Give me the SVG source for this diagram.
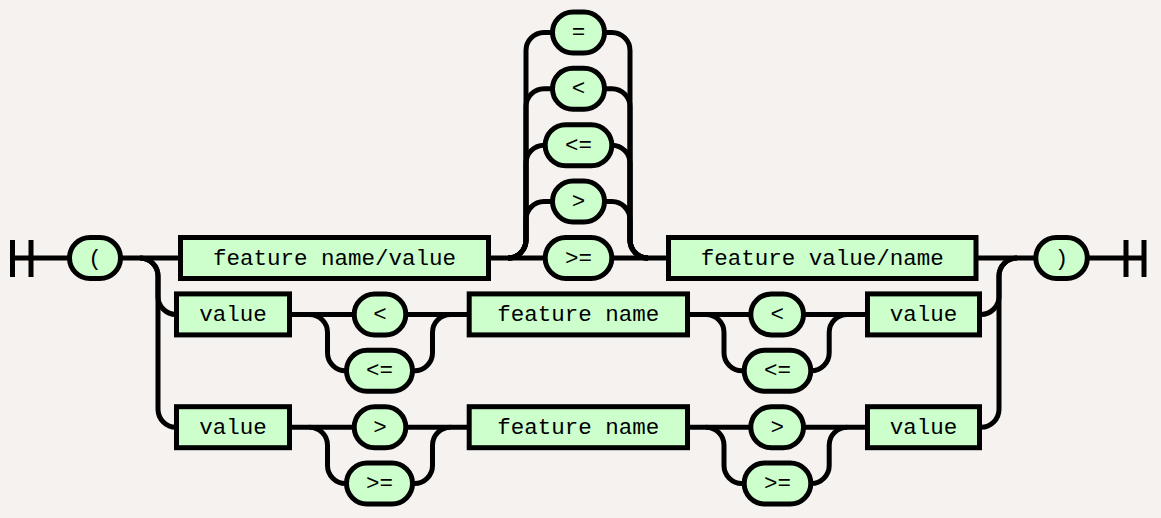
<svg xmlns="http://www.w3.org/2000/svg" width="1161" height="518" viewBox="0 0 1161 518">
<style>
.bg{fill:#f5f2f0}
path{fill:none;stroke:#000;stroke-width:5}
rect{fill:#ccffcc;stroke:#000;stroke-width:5}
text{font-family:"Liberation Mono","DejaVu Sans Mono",monospace;font-size:22.5px;fill:#000;text-anchor:middle}
</style>
<rect class="bg" x="0" y="0" width="1161" height="518" style="fill:#f5f2f0;stroke:none"/>
<g id="connectors">
<path d="M12.5 240V277M31 240V277M12.5 258H69.5"/>
<path d="M120.5 258H180.5"/>
<path d="M488.5 258H545.2"/>
<path d="M611.8 258H668.5"/>
<path d="M976 258H1035.8"/>
<path d="M1087.3 258H1144M1126 240V277M1144 240V277"/>
<!-- top choice -->
<path d="M508 258A18 18 0 0 0 526 240V219.6A18 18 0 0 1 544 201.6H552.5M604.5 201.6H612A18 18 0 0 1 630 219.6V240A18 18 0 0 0 648 258"/>
<path d="M508 258A18 18 0 0 0 526 240V163.2A18 18 0 0 1 544 145.2H545.2M611.8 145.2H612A18 18 0 0 1 630 163.2V240A18 18 0 0 0 648 258"/>
<path d="M508 258A18 18 0 0 0 526 240V106.8A18 18 0 0 1 544 88.8H552.5M604.5 88.8H612A18 18 0 0 1 630 106.8V240A18 18 0 0 0 648 258"/>
<path d="M508 258A18 18 0 0 0 526 240V50.4A18 18 0 0 1 544 32.4H552.5M604.5 32.4H612A18 18 0 0 1 630 50.4V240A18 18 0 0 0 648 258"/>
<!-- lower alternatives from ( -->
<path d="M140 258A18 18 0 0 1 158 276V296.4A18 18 0 0 0 176 314.4H176.5"/>
<path d="M140 258A18 18 0 0 1 158 276V409.2A18 18 0 0 0 176 427.2H176.5"/>
<path d="M979.5 314.4H981A18 18 0 0 0 999 296.4V276A18 18 0 0 1 1017 258"/>
<path d="M979.5 427.2H981A18 18 0 0 0 999 409.2V276A18 18 0 0 1 1017 258"/>
<!-- row 2 -->
<path d="M289.5 314.4H354.2M405.8 314.4H469.2"/>
<path d="M309.5 314.4A18 18 0 0 1 327.5 332.4V352.8A18 18 0 0 0 345.5 370.8H346.5M412.5 370.8H414.5A18 18 0 0 0 432.5 352.8V332.4A18 18 0 0 1 450.5 314.4"/>
<path d="M687.5 314.4H750.8M803.5 314.4H867.5"/>
<path d="M706 314.4A18 18 0 0 1 724 332.4V352.8A18 18 0 0 0 742 370.8H744.2M810.8 370.8H811.2A18 18 0 0 0 829.2 352.8V332.4A18 18 0 0 1 847.2 314.4"/>
<!-- row 3 -->
<path d="M289.5 427.2H354.2M405.8 427.2H469.2"/>
<path d="M309.5 427.2A18 18 0 0 1 327.5 445.2V465.6A18 18 0 0 0 345.5 483.6H346.5M412.5 483.6H414.5A18 18 0 0 0 432.5 465.6V445.2A18 18 0 0 1 450.5 427.2"/>
<path d="M687.5 427.2H750.8M803.5 427.2H867.5"/>
<path d="M706 427.2A18 18 0 0 1 724 445.2V465.6A18 18 0 0 0 742 483.6H744.2M810.8 483.6H811.2A18 18 0 0 0 829.2 465.6V445.2A18 18 0 0 1 847.2 427.2"/>
</g>
<g id="lparen"><rect x="69.5" y="237.5" width="51" height="41" rx="20.5"/><text x="95" y="264.5">(</text></g>
<g id="feature-name-value"><rect x="180.5" y="237.5" width="308" height="41"/><text x="334.5" y="264.5">feature name/value</text></g>
<g id="op-eq"><rect x="552.5" y="11.9" width="52" height="41" rx="20.5"/><text x="578.5" y="38.9">=</text></g>
<g id="op-lt"><rect x="552.5" y="68.3" width="52" height="41" rx="20.5"/><text x="578.5" y="95.3">&lt;</text></g>
<g id="op-le"><rect x="545.2" y="124.7" width="66.6" height="41" rx="20.5"/><text x="578.5" y="151.7">&lt;=</text></g>
<g id="op-gt"><rect x="552.5" y="181.1" width="52" height="41" rx="20.5"/><text x="578.5" y="208.1">&gt;</text></g>
<g id="op-ge"><rect x="545.2" y="237.5" width="66.6" height="41" rx="20.5"/><text x="578.5" y="264.5">&gt;=</text></g>
<g id="feature-value-name"><rect x="668.5" y="237.5" width="307.5" height="41"/><text x="822.2" y="264.5">feature value/name</text></g>
<g id="rparen"><rect x="1035.8" y="237.5" width="51.5" height="41" rx="20.5"/><text x="1061.5" y="264.5">)</text></g>
<!-- row 2 -->
<g id="value-1"><rect x="176.5" y="293.9" width="113" height="41"/><text x="233" y="320.9">value</text></g>
<g id="r2-lt1"><rect x="354.2" y="293.9" width="51.6" height="41" rx="20.5"/><text x="380" y="320.9">&lt;</text></g>
<g id="r2-le1"><rect x="346.5" y="350.3" width="66" height="41" rx="20.5"/><text x="379.5" y="377.3">&lt;=</text></g>
<g id="feature-name-1"><rect x="469.2" y="293.9" width="218.3" height="41"/><text x="578.3" y="320.9">feature name</text></g>
<g id="r2-lt2"><rect x="750.8" y="293.9" width="52.7" height="41" rx="20.5"/><text x="777.2" y="320.9">&lt;</text></g>
<g id="r2-le2"><rect x="744.2" y="350.3" width="66.6" height="41" rx="20.5"/><text x="777.5" y="377.3">&lt;=</text></g>
<g id="value-2"><rect x="867.5" y="293.9" width="112" height="41"/><text x="923.5" y="320.9">value</text></g>
<!-- row 3 -->
<g id="value-3"><rect x="176.5" y="406.7" width="113" height="41"/><text x="233" y="433.7">value</text></g>
<g id="r3-gt1"><rect x="354.2" y="406.7" width="51.6" height="41" rx="20.5"/><text x="380" y="433.7">&gt;</text></g>
<g id="r3-ge1"><rect x="346.5" y="463.1" width="66" height="41" rx="20.5"/><text x="379.5" y="490.1">&gt;=</text></g>
<g id="feature-name-2"><rect x="469.2" y="406.7" width="218.3" height="41"/><text x="578.3" y="433.7">feature name</text></g>
<g id="r3-gt2"><rect x="750.8" y="406.7" width="52.7" height="41" rx="20.5"/><text x="777.2" y="433.7">&gt;</text></g>
<g id="r3-ge2"><rect x="744.2" y="463.1" width="66.6" height="41" rx="20.5"/><text x="777.5" y="490.1">&gt;=</text></g>
<g id="value-4"><rect x="867.5" y="406.7" width="112" height="41"/><text x="923.5" y="433.7">value</text></g>
</svg>
